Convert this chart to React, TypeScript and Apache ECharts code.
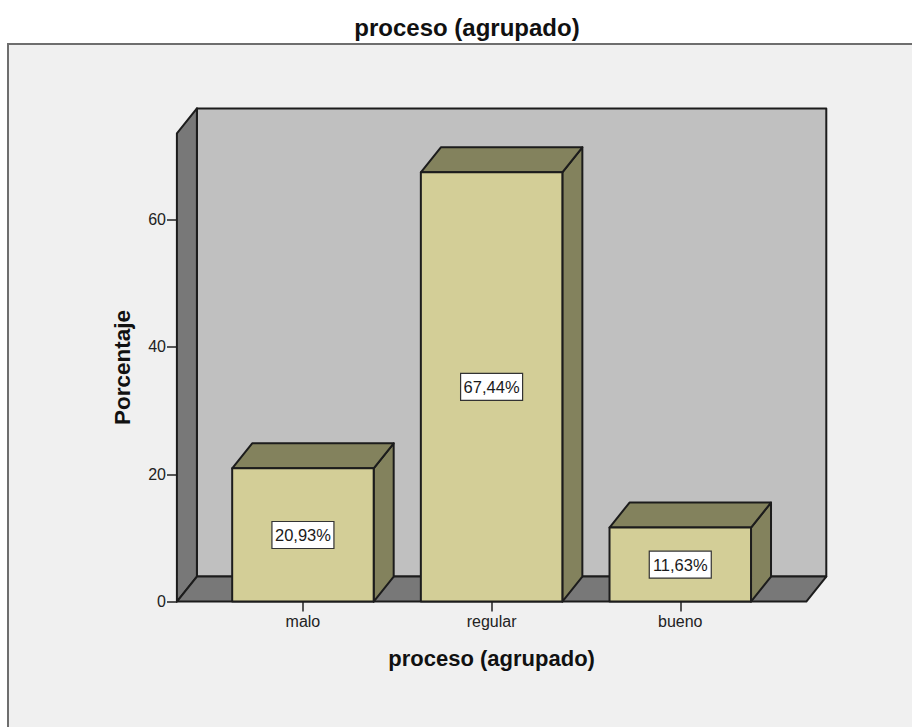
import React, { useEffect, useRef } from "react";
import * as echarts from "echarts";

const titleText = "proceso (agrupado)";
const yAxisName = "Porcentaje";
const categories = ["malo", "regular", "bueno"];
const percentages = [20.93, 67.44, 11.63];
const percentLabels = ["20,93%", "67,44%", "11,63%"];
const yTicks = [0, 20, 40, 60];
const yMax = 73.55;

const FONT = '"Liberation Sans", Arial, sans-serif';
const DEPTH_X = 20;
const DEPTH_Y = 25;
const STROKE = "#1c1c1c";

function renderWalls(_params: any, api: any) {
  const band = api.size([1, 0])[0];
  const [c0, y0] = api.coord([0, 0]);
  const [c2, yTop] = api.coord([2, api.value(1)]);
  const l = c0 - band * 0.668;
  const r = c2 + band * 0.668;
  const lineStyle = { stroke: STROKE, lineWidth: 2, lineJoin: "round" };
  const poly = (points: number[][], fill: string) => ({
    type: "polygon",
    shape: { points },
    style: { fill, ...lineStyle },
  });
  return {
    type: "group",
    children: [
      poly(
        [[l + DEPTH_X, yTop - DEPTH_Y], [r + DEPTH_X, yTop - DEPTH_Y], [r + DEPTH_X, y0 - DEPTH_Y], [l + DEPTH_X, y0 - DEPTH_Y]],
        "#c0c0c0"
      ),
      poly(
        [[l, yTop], [l + DEPTH_X, yTop - DEPTH_Y], [l + DEPTH_X, y0 - DEPTH_Y], [l, y0]],
        "#787878"
      ),
      poly(
        [[l, y0], [l + DEPTH_X, y0 - DEPTH_Y], [r + DEPTH_X, y0 - DEPTH_Y], [r, y0]],
        "#787878"
      ),
    ],
  };
}

function renderBar(params: any, api: any) {
  const i = api.value(0);
  const band = api.size([1, 0])[0];
  const half = band * 0.375;
  const [cx, yTop] = api.coord([i, api.value(1)]);
  const [, y0] = api.coord([i, 0]);
  const l = cx - half;
  const r = cx + half;
  const lineStyle = { stroke: STROKE, lineWidth: 2, lineJoin: "round" };
  const poly = (points: number[][], fill: string) => ({
    type: "polygon",
    shape: { points },
    style: { fill, ...lineStyle },
  });
  const midY = (yTop + y0) / 2;
  return {
    type: "group",
    children: [
      poly([[r, yTop], [r + DEPTH_X, yTop - DEPTH_Y], [r + DEPTH_X, y0 - DEPTH_Y], [r, y0]], "#83825d"),
      poly([[l, yTop], [l + DEPTH_X, yTop - DEPTH_Y], [r + DEPTH_X, yTop - DEPTH_Y], [r, yTop]], "#83825d"),
      poly([[l, yTop], [r, yTop], [r, y0], [l, y0]], "#d3ce97"),
      {
        type: "rect",
        shape: { x: cx - 31, y: midY - 13.5, width: 62, height: 27 },
        style: { fill: "#ffffff", stroke: "#333333", lineWidth: 1.2 },
      },
      {
        type: "text",
        x: cx,
        y: midY,
        style: {
          text: percentLabels[params.dataIndex],
          fill: "#1a1a1a",
          font: `16.5px ${FONT}`,
          align: "center",
          verticalAlign: "middle",
        },
      },
    ],
  };
}

export default function App() {
  const ref = useRef<HTMLDivElement>(null);
  useEffect(() => {
    const chart = echarts.init(ref.current!, undefined, { renderer: "svg", width: 912, height: 727 });
    chart.setOption({
      animation: false,
      backgroundColor: "#ffffff",
      title: {
        text: titleText,
        left: 462,
        top: 10,
        textAlign: "center",
        textStyle: { fontFamily: FONT, fontSize: 24, fontWeight: "bold", color: "#111111" },
      },
      graphic: [
        {
          type: "rect",
          z: -10,
          shape: { x: 8, y: 44, width: 920, height: 700 },
          style: { fill: "#f0f0f0", stroke: "#6e6e6e", lineWidth: 2 },
        },
      ],
      grid: { left: 208.6, top: 133.4, width: 566, height: 468.2 },
      xAxis: {
        type: "category",
        data: categories,
        name: titleText,
        nameLocation: "middle",
        nameGap: 46,
        nameTextStyle: { fontFamily: FONT, fontSize: 22, fontWeight: "bold", color: "#111111" },
        axisLine: { show: false },
        axisTick: { show: true, alignWithLabel: true, length: 10, lineStyle: { color: "#222222", width: 1.5 } },
        axisLabel: { fontFamily: FONT, fontSize: 16, color: "#222222", margin: 12 },
        splitLine: { show: false },
      },
      yAxis: {
        type: "value",
        min: 0,
        max: yMax,
        interval: 20,
        offset: 31.6,
        name: yAxisName,
        nameLocation: "middle",
        nameGap: 43,
        nameTextStyle: { fontFamily: FONT, fontSize: 22.5, fontWeight: "bold", color: "#111111" },
        axisLine: { show: false },
        axisTick: { show: true, length: 10, customValues: yTicks, lineStyle: { color: "#222222", width: 1.5 } },
        axisLabel: { fontFamily: FONT, fontSize: 16, color: "#222222", margin: 11, customValues: yTicks },
        splitLine: { show: false },
      },
      series: [
        {
          type: "custom",
          z: 1,
          clip: false,
          silent: true,
          renderItem: renderWalls,
          encode: { x: 0, y: 1 },
          data: [[0, yMax]],
        },
        {
          type: "custom",
          z: 2,
          clip: false,
          silent: true,
          renderItem: renderBar,
          encode: { x: 0, y: 1 },
          data: categories.map((_, i) => [i, percentages[i]]),
        },
      ],
    });
    return () => chart.dispose();
  }, []);
  return <div ref={ref} style={{ position: "absolute", left: 0, top: 0, width: 912, height: 727 }} />;
}
